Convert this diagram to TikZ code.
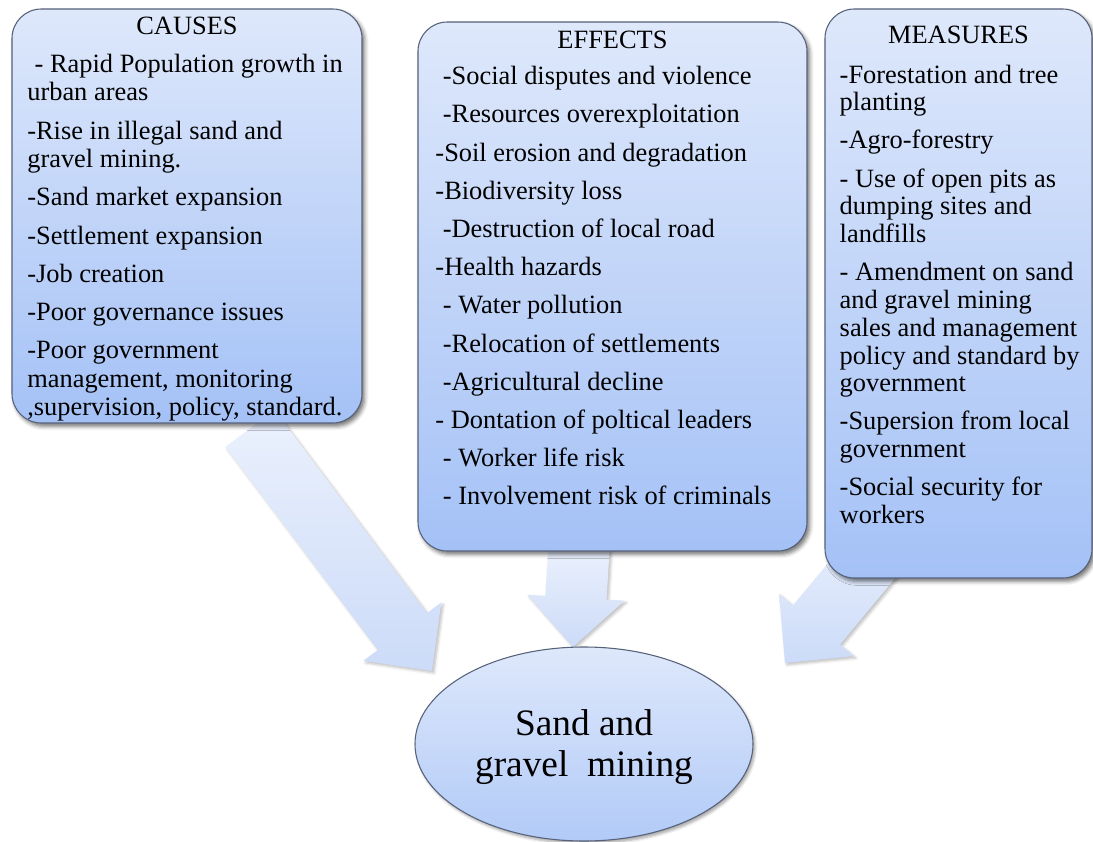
\documentclass[tikz,border=0pt]{standalone}
\usepackage{fontspec}
\setmainfont{Liberation Serif}
\usetikzlibrary{positioning,calc,shapes.geometric,shadows.blur}

\definecolor{boxtop}{HTML}{DEE8FB}
\definecolor{boxbot}{HTML}{A4C1F6}
\definecolor{boxline}{HTML}{56617A}
\definecolor{arrtop}{HTML}{EBF1FD}
\definecolor{arrbot}{HTML}{CCDBF8}

\newcommand{\indnt}{\hspace*{.28em}}
\newcommand{\nx}{\\[7.25pt]}
% wide arrow from #1 (foot) to #2 (tip)
\newcommand{\blockarrow}[2]{%
  \coordinate (neck) at ($(#2)!37pt!(#1)$);
  \path[bigarrow] ($(#1)!23pt!90:(#2)$) -- ($(neck)!23pt!90:(#2)$)
    -- ($(neck)!36.5pt!90:(#2)$) -- (#2) -- ($(neck)!36.5pt!-90:(#2)$)
    -- ($(neck)!23pt!-90:(#2)$) -- ($(#1)!23pt!-90:(#2)$) -- cycle;}

\begin{document}
\begin{tikzpicture}[x=0.75pt,y=0.75pt,
    box/.style={draw=boxline, line width=0.8pt, rounded corners=22pt,
      top color=boxtop, bottom color=boxbot,
      blur shadow={shadow xshift=2pt, shadow yshift=-2.5pt, shadow blur radius=3pt, shadow opacity=55}},
    bigarrow/.style={top color=arrtop, bottom color=arrbot,
      blur shadow={shadow xshift=1.5pt, shadow yshift=-1.5pt, shadow blur radius=2pt, shadow opacity=25}},
    headtext/.style={inner sep=0pt, font=\fontsize{19.8}{21.4}\selectfont},
    listtext/.style={inner sep=0pt, align=left, font=\fontsize{19.8}{21.4}\selectfont},
    hub/.style={ellipse, draw=boxline, line width=0.8pt, top color=boxtop, bottom color=boxbot!85!white,
      minimum width=253.5pt, minimum height=145.5pt, inner sep=0pt,
      blur shadow={shadow xshift=1.5pt, shadow yshift=-2pt, shadow blur radius=2pt, shadow opacity=35}},
    hubtext/.style={inner sep=0pt, align=center, font=\fontsize{28}{31}\selectfont}]
    \useasboundingbox (0,0) rectangle (1093,-842);

    \coordinate (causesfoot) at (250,-428.5);
    \coordinate (causestip) at (432,-671);
    \coordinate (effectsfoot) at (579,-548);
    \coordinate (effectstip) at (573,-647);
    \coordinate (measuresfoot) at (887,-540);
    \coordinate (measurestip) at (785,-663);
    \blockarrow{causesfoot}{causestip}
    \blockarrow{effectsfoot}{effectstip}
    \blockarrow{measuresfoot}{measurestip}

    \node[box, minimum width=262.5pt, minimum height=310.5pt] (causes) at (187,-216) {};
    \node[box, minimum width=291.75pt, minimum height=396.75pt] (effects) at (612.5,-286.5) {};
    \node[box, minimum width=200.25pt, minimum height=426.75pt] (measures) at (958.5,-293.5) {};

    \node[headtext, below=6.5pt of causes.north] (causeshead) {CAUSES};
    \node[listtext, below right=34pt and 11.7pt of causes.north west] (causeslist)
      {\indnt- Rapid Population growth in\\ urban areas\nx
       -Rise in illegal sand and\\ gravel mining.\nx
       -Sand market expansion\nx
       -Settlement expansion\nx
       -Job creation\nx
       -Poor governance issues\nx
       -Poor government\\ management, monitoring\\ ,supervision, policy, standard.};

    \node[headtext, below=7pt of effects.north] (effectshead) {EFFECTS};
    \node[listtext, below right=33.5pt and 13.3pt of effects.north west] (effectslist)
      {\indnt-Social disputes and violence\nx
       \indnt-Resources overexploitation\nx
       -Soil erosion and degradation\nx
       -Biodiversity loss\nx
       \indnt-Destruction of local road\nx
       -Health hazards\nx
       \indnt- Water pollution\nx
       \indnt-Relocation of settlements\nx
       \indnt-Agricultural decline\nx
       - Dontation of poltical leaders\nx
       \indnt- Worker life risk\nx
       \indnt- Involvement risk of criminals};

    \node[headtext, below=13pt of measures.north] (measureshead) {MEASURES};
    \node[listtext, font=\fontsize{19.8}{20.8}\selectfont, below right=42pt and 11.25pt of measures.north west] (measureslist)
      {-Forestation and tree\\ planting\\[7.85pt]
       -Agro-forestry\\[7.85pt]
       - Use of open pits as\\ dumping sites and\\ landfills\\[7.85pt]
       - Amendment on sand\\ and gravel mining\\ sales and management\\ policy and standard by\\ government\\[7.85pt]
       -Supersion from local\\ government\\[7.85pt]
       -Social security for\\ workers};

    \node[hub] (mining) at (584,-744) {};
    \node[hubtext] (miningtext) at ([yshift=-2.5pt]mining.center) {Sand and\\ gravel~ mining};
\end{tikzpicture}
\end{document}
